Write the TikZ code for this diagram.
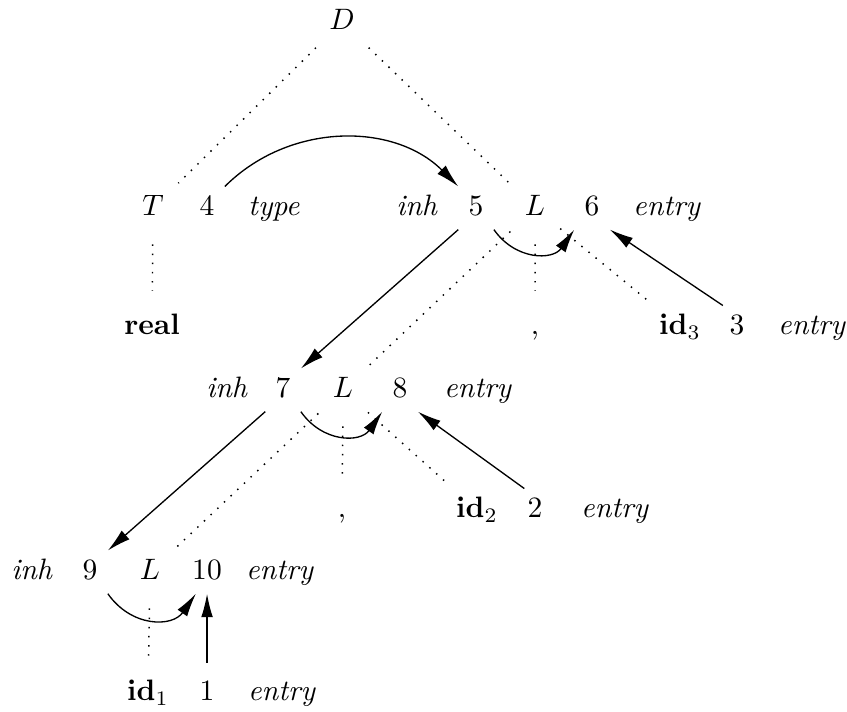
\documentclass[tikz,border=0pt]{standalone}
\usetikzlibrary{arrows.meta}
\tikzset{
  tree/.style={line width=0.5pt, dash pattern=on 0.5pt off 2.6pt, shorten <=2pt, shorten >=2pt},
  treev/.style={tree, shorten <=5pt, shorten >=5pt},
  dep/.style={-{Latex[length=2.8mm,width=1.4mm]}, line width=0.45pt},
  under/.style={out=-55, in=-125, looseness=1.2},
}
\begin{document}
\begin{tikzpicture}[scale=1.19, every node/.style={text height=1.5ex, text depth=0.25ex}]
\useasboundingbox (0,0) rectangle (8.47,-7.11);
% grammar symbols and attribute numbers
\node (D) at (3.42,-0.22) {$D$};
\node (T) at (1.53,-2.08) {$T$};
\node (n4) at (2.07,-2.08) {$4$};
\node (type) at (2.74,-2.08) {\textit{type}};
\node (inh5) at (4.17,-2.08) {\textit{inh}};
\node (n5) at (4.76,-2.08) {$5$};
\node (L5) at (5.35,-2.08) {$L$};
\node (n6) at (5.92,-2.08) {$6$};
\node (entry6) at (6.67,-2.08) {\textit{entry}};
\node (real) at (1.52,-3.27) {\textbf{real}};
\node (c5) at (5.35,-3.27) {,};
\node (id3) at (6.80,-3.27) {$\mathbf{id}_3$};
\node (n3) at (7.37,-3.27) {$3$};
\node (entry3) at (8.12,-3.27) {\textit{entry}};
\node (inh7) at (2.27,-3.90) {\textit{inh}};
\node (n7) at (2.83,-3.90) {$7$};
\node (L7) at (3.43,-3.90) {$L$};
\node (n8) at (4.00,-3.90) {$8$};
\node (entry8) at (4.78,-3.90) {\textit{entry}};
\node (c7) at (3.42,-5.10) {,};
\node (id2) at (4.77,-5.10) {$\mathbf{id}_2$};
\node (n2) at (5.35,-5.10) {$2$};
\node (entry2) at (6.15,-5.10) {\textit{entry}};
\node (inh9) at (0.32,-5.72) {\textit{inh}};
\node (n9) at (0.90,-5.72) {$9$};
\node (L9) at (1.50,-5.72) {$L$};
\node (n10) at (2.07,-5.72) {$10$};
\node (entry10) at (2.80,-5.72) {\textit{entry}};
\node (id1) at (1.48,-6.93) {$\mathbf{id}_1$};
\node (n1) at (2.07,-6.93) {$1$};
\node (entry1) at (2.82,-6.93) {\textit{entry}};
% parse tree
\draw[tree] (D) -- (T);
\draw[tree] (D) -- (L5);
\draw[treev] (T) -- (real);
\draw[tree] (L5) -- (L7);
\draw[treev] (L5) -- (c5);
\draw[tree] (L5) -- (id3);
\draw[tree] (L7) -- (L9);
\draw[treev] (L7) -- (c7);
\draw[tree] (L7) -- (id2);
\draw[treev] (L9) -- (id1);
% dependency graph
\draw[dep] (n4.north east) to[bend left=45] (n5.north west);
\draw[dep] (n5.south east) to[under] (n6.south west);
\draw[dep] ([xshift=1pt]n3.north west) -- (n6.south east);
\draw[dep] (n5.south west) -- (n7.north east);
\draw[dep] (n7.south east) to[under] (n8.south west);
\draw[dep] ([xshift=2pt]n2.north west) -- (n8.south east);
\draw[dep] (n7.south west) -- (n9.north east);
\draw[dep] (n9.south east) to[under] ([xshift=4pt]n10.south west);
\draw[dep, shorten <=3pt] (n1.north) -- (n10.south);
\end{tikzpicture}
\end{document}
